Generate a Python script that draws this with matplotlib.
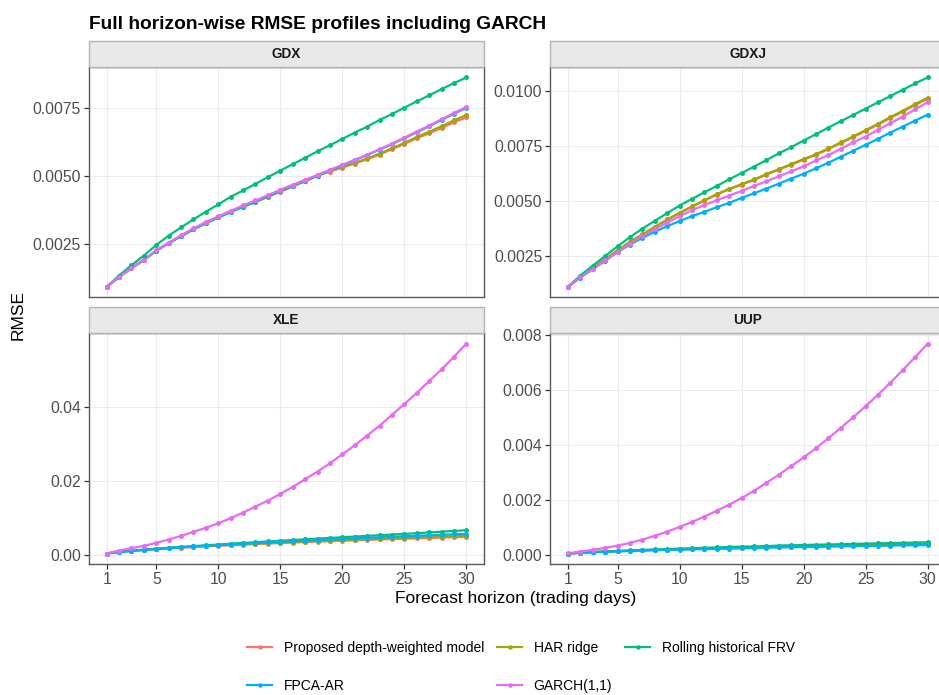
import matplotlib
matplotlib.use("Agg")
import matplotlib.pyplot as plt
from matplotlib.patches import Rectangle
from matplotlib.lines import Line2D
import numpy as np

plt.rcParams['font.family'] = ['Liberation Sans', 'DejaVu Sans']

horizon = list(range(1, 31))
models = ["Proposed depth-weighted model", "HAR ridge", "Rolling historical FRV",
          "FPCA-AR", "GARCH(1,1)"]
colors = ["#F8766D", "#A3A500", "#00BF7D", "#00B0F6", "#E76BF3"]

# ---- GDX
gdx_proposed = [0.000919, 0.001280, 0.001610, 0.001910, 0.002250, 0.002530, 0.002790, 0.003040, 0.003270, 0.003480,
                0.003680, 0.003870, 0.004050, 0.004240, 0.004430, 0.004620, 0.004810, 0.005012, 0.005172, 0.005319,
                0.005466, 0.005625, 0.005797, 0.005993, 0.006189, 0.006397, 0.006581, 0.006777, 0.006985, 0.007169]
gdx_har = [0.000919, 0.001282, 0.001612, 0.001912, 0.002252, 0.002532, 0.002792, 0.003042, 0.003272, 0.003482,
           0.003682, 0.003875, 0.004055, 0.004248, 0.004440, 0.004630, 0.004822, 0.005025, 0.005188, 0.005338,
           0.005490, 0.005652, 0.005828, 0.006025, 0.006225, 0.006440, 0.006640, 0.006840, 0.007060, 0.007250]
gdx_rolling = [0.000919, 0.001336, 0.001716, 0.002071, 0.002463, 0.002806, 0.003113, 0.003407, 0.003689, 0.003958,
               0.004240, 0.004473, 0.004718, 0.004963, 0.005208, 0.005441, 0.005674, 0.005919, 0.006140, 0.006373,
               0.006605, 0.006826, 0.007071, 0.007292, 0.007525, 0.007757, 0.007978, 0.008211, 0.008431, 0.008640]
gdx_fpca = [0.000919, 0.001280, 0.001610, 0.001910, 0.002250, 0.002530, 0.002790, 0.003040, 0.003270, 0.003480,
            0.003680, 0.003880, 0.004060, 0.004260, 0.004450, 0.004640, 0.004830, 0.005020, 0.005210, 0.005400,
            0.005590, 0.005780, 0.005980, 0.006180, 0.006400, 0.006620, 0.006840, 0.007070, 0.007300, 0.007520]
gdx_garch = [0.000919, 0.001287, 0.001618, 0.001924, 0.002267, 0.002549, 0.002819, 0.003076, 0.003309, 0.003517,
             0.003725, 0.003922, 0.004105, 0.004301, 0.004498, 0.004681, 0.004865, 0.005049, 0.005233, 0.005417,
             0.005600, 0.005784, 0.005993, 0.006201, 0.006422, 0.006642, 0.006863, 0.007096, 0.007328, 0.007549]

# ---- GDXJ
gdxj_proposed = [0.001100, 0.001551, 0.001973, 0.002350, 0.002741, 0.003133, 0.003464, 0.003810, 0.004142, 0.004443,
                 0.004729, 0.005015, 0.005286, 0.005527, 0.005738, 0.005949, 0.006190, 0.006416, 0.006642, 0.006868,
                 0.007093, 0.007349, 0.007621, 0.007892, 0.008178, 0.008464, 0.008765, 0.009051, 0.009352, 0.009639]
gdxj_har = [0.001100, 0.001555, 0.001980, 0.002360, 0.002752, 0.003145, 0.003478, 0.003825, 0.004158, 0.004460,
            0.004748, 0.005035, 0.005306, 0.005548, 0.005760, 0.005972, 0.006214, 0.006440, 0.006668, 0.006895,
            0.007122, 0.007380, 0.007652, 0.007925, 0.008212, 0.008500, 0.008802, 0.009090, 0.009392, 0.009680]
gdxj_rolling = [0.001100, 0.001612, 0.002063, 0.002500, 0.002937, 0.003359, 0.003735, 0.004096, 0.004443, 0.004789,
                0.005090, 0.005392, 0.005678, 0.005979, 0.006265, 0.006551, 0.006852, 0.007154, 0.007440, 0.007741,
                0.008027, 0.008328, 0.008614, 0.008901, 0.009187, 0.009473, 0.009759, 0.010045, 0.010331, 0.010602]
gdxj_fpca = [0.001100, 0.001521, 0.001898, 0.002274, 0.002681, 0.003012, 0.003328, 0.003599, 0.003856, 0.004081,
             0.004307, 0.004503, 0.004714, 0.004910, 0.005135, 0.005346, 0.005557, 0.005783, 0.006009, 0.006235,
             0.006476, 0.006732, 0.007003, 0.007274, 0.007545, 0.007816, 0.008102, 0.008374, 0.008645, 0.008916]
gdxj_garch = [0.001100, 0.001536, 0.001928, 0.002304, 0.002681, 0.003057, 0.003404, 0.003705, 0.004021, 0.004307,
              0.004578, 0.004810, 0.005030, 0.005241, 0.005452, 0.005678, 0.005889, 0.006115, 0.006340, 0.006566,
              0.006837, 0.007078, 0.007364, 0.007651, 0.007922, 0.008223, 0.008524, 0.008825, 0.009157, 0.009473]

# ---- XLE
xle_proposed = [0.00045, 0.00086, 0.00116, 0.00141, 0.00164, 0.00185, 0.00204, 0.00222, 0.00239, 0.00255,
                0.00271, 0.00286, 0.00300, 0.00314, 0.00328, 0.00341, 0.00354, 0.00366, 0.00378, 0.00390,
                0.00402, 0.00413, 0.00424, 0.00435, 0.00445, 0.00455, 0.00465, 0.00475, 0.00485, 0.00494]
xle_har = [0.00045, 0.00087, 0.00117, 0.00143, 0.00167, 0.00189, 0.00209, 0.00228, 0.00246, 0.00263,
           0.00280, 0.00296, 0.00311, 0.00326, 0.00341, 0.00355, 0.00369, 0.00382, 0.00395, 0.00408,
           0.00421, 0.00433, 0.00445, 0.00457, 0.00468, 0.00479, 0.00490, 0.00500, 0.00510, 0.00520]
xle_rolling = [0.00045, 0.00088, 0.00120, 0.00148, 0.00174, 0.00198, 0.00222, 0.00245, 0.00267, 0.00288,
               0.00309, 0.00330, 0.00350, 0.00370, 0.00390, 0.00409, 0.00428, 0.00447, 0.00466, 0.00485,
               0.00503, 0.00521, 0.00539, 0.00557, 0.00576, 0.00594, 0.00614, 0.00634, 0.00654, 0.00674]
xle_fpca = [0.00045, 0.00088, 0.00119, 0.00146, 0.00171, 0.00194, 0.00216, 0.00236, 0.00256, 0.00275,
            0.00293, 0.00311, 0.00328, 0.00345, 0.00362, 0.00378, 0.00394, 0.00410, 0.00425, 0.00440,
            0.00455, 0.00470, 0.00484, 0.00498, 0.00512, 0.00525, 0.00538, 0.00551, 0.00563, 0.00575]
xle_garch = [0.00045, 0.00126, 0.00189, 0.00252, 0.00333, 0.00423, 0.00521, 0.00629, 0.00737, 0.00863,
             0.00998, 0.01151, 0.01313, 0.01474, 0.01654, 0.01843, 0.02050, 0.02256, 0.02481, 0.02724,
             0.02967, 0.03227, 0.03497, 0.03785, 0.04081, 0.04378, 0.04702, 0.05016, 0.05358, 0.05709]

# ---- UUP
uup_proposed = [0.00005, 0.00008, 0.00010, 0.00012, 0.00013, 0.00015, 0.00016, 0.00018, 0.00019, 0.00020,
                0.00021, 0.00023, 0.00024, 0.00025, 0.00026, 0.00027, 0.00028, 0.00029, 0.00030, 0.00031,
                0.00032, 0.00033, 0.00034, 0.00035, 0.00036, 0.00036, 0.00037, 0.00038, 0.00039, 0.00040]
uup_har = [0.00005, 0.00008, 0.00010, 0.00012, 0.00014, 0.00015, 0.00017, 0.00018, 0.00019, 0.00021,
           0.00022, 0.00023, 0.00024, 0.00026, 0.00027, 0.00028, 0.00029, 0.00030, 0.00031, 0.00032,
           0.00033, 0.00034, 0.00035, 0.00036, 0.00037, 0.00038, 0.00039, 0.00040, 0.00041, 0.00042]
uup_rolling = [0.00005, 0.00008, 0.00010, 0.00012, 0.00014, 0.00016, 0.00018, 0.00020, 0.00021, 0.00023,
               0.00024, 0.00026, 0.00027, 0.00029, 0.00030, 0.00031, 0.00032, 0.00034, 0.00035, 0.00036,
               0.00037, 0.00038, 0.00039, 0.00040, 0.00041, 0.00042, 0.00043, 0.00044, 0.00045, 0.00046]
uup_fpca = [0.00005, 0.00008, 0.00010, 0.00011, 0.00013, 0.00014, 0.00016, 0.00017, 0.00018, 0.00019,
            0.00020, 0.00021, 0.00022, 0.00023, 0.00024, 0.00025, 0.00026, 0.00027, 0.00028, 0.00029,
            0.00029, 0.00030, 0.00031, 0.00032, 0.00032, 0.00033, 0.00034, 0.00035, 0.00035, 0.00036]
uup_garch = [0.0000606, 0.000121, 0.000182, 0.000255, 0.000339, 0.000436, 0.000558, 0.000691, 0.000848, 0.001018,
             0.001200, 0.001394, 0.001612, 0.001830, 0.002073, 0.002339, 0.002630, 0.002921, 0.003236, 0.003552,
             0.003891, 0.004255, 0.004630, 0.005018, 0.005418, 0.005842, 0.006279, 0.006739, 0.007212, 0.007697]

panel_names = ["GDX", "GDXJ", "XLE", "UUP"]
panel_series = [
    [gdx_proposed, gdx_har, gdx_rolling, gdx_fpca, gdx_garch],
    [gdxj_proposed, gdxj_har, gdxj_rolling, gdxj_fpca, gdxj_garch],
    [xle_proposed, xle_har, xle_rolling, xle_fpca, xle_garch],
    [uup_proposed, uup_har, uup_rolling, uup_fpca, uup_garch],
]
panel_yticks = [
    [0.0025, 0.0050, 0.0075],
    [0.0025, 0.0050, 0.0075, 0.0100],
    [0.00, 0.02, 0.04],
    [0.000, 0.002, 0.004, 0.006, 0.008],
]
panel_fmt = ["{:.4f}", "{:.4f}", "{:.2f}", "{:.3f}"]
xticks = [1, 5, 10, 15, 20, 25, 30]

W, H = 939, 695
fig = plt.figure(figsize=(W / 100, H / 100), dpi=100)

# panel boxes in pixels: left, top, right, bottom
boxes = [(88.7, 67.0, 484.3, 297.3), (550.0, 67.0, 945.6, 297.3),
         (88.7, 333.3, 484.3, 564.0), (550.0, 333.3, 945.6, 564.0)]
strip_px = 26.3

for name, series, yt, fmt, (l, t, r, b) in zip(panel_names, panel_series, panel_yticks, panel_fmt, boxes):
    ax = fig.add_axes([l / W, 1 - b / H, (r - l) / W, (b - t) / H])
    ax.set_facecolor("white")
    for vals, c in zip(series, colors):
        ax.plot(horizon, vals, color=c, lw=1.6, zorder=2, solid_capstyle="round")
    for vals, c in zip(series, colors):
        ax.plot(horizon, vals, 'o', color=c, ms=3.6, mew=0, zorder=3)
    ax.margins(x=0.05, y=0.05)
    ax.set_xticks(xticks)
    ax.set_yticks(yt)
    ax.set_yticklabels([fmt.format(v) for v in yt])
    ax.grid(True, color="#EBEBEB", lw=0.8, zorder=0)
    ax.set_axisbelow(True)
    for s in ax.spines.values():
        s.set_color("#5A5A5A")
        s.set_linewidth(1.0)
    ax.tick_params(axis="both", colors="#4D4D4D", labelsize=11.3, length=3.5, width=0.9, pad=2)
    ax.tick_params(axis="both", color="#333333")
    if name in ("GDX", "GDXJ"):
        ax.tick_params(axis="x", labelbottom=False, length=0)
    # facet strip
    sh = strip_px / (b - t)
    ax.add_patch(Rectangle((0, 1), 1, sh, transform=ax.transAxes, clip_on=False,
                           facecolor="#E8E8E8", edgecolor="#B3B3B3", lw=1.0, zorder=5))
    ax.text(0.5, 1 + sh / 2, name, transform=ax.transAxes, ha="center", va="center",
            fontsize=9.8, fontweight="bold", color="#1A1A1A", zorder=6)

fig.text(89 / W, 1 - 29 / H, "Full horizon-wise RMSE profiles including GARCH",
         fontsize=13.8, fontweight="bold", ha="left", va="baseline", color="black")
fig.text(18 / W, 1 - 315 / H, "RMSE", rotation=90, fontsize=12.5, ha="center", va="center")
fig.text(516 / W, 1 - 598.5 / H, "Forecast horizon (trading days)", fontsize=12.5,
         ha="center", va="center")

handles = [Line2D([], [], color=c, lw=1.6, marker='o', ms=3.2, mew=0) for c in colors]
order = [0, 3, 1, 4, 2]
leg = fig.legend([handles[i] for i in order], [models[i] for i in order], ncol=3,
                 loc="upper left", bbox_to_anchor=(247 / W, 1 - 641 / H), frameon=False,
                 fontsize=10, handlelength=1.8, handletextpad=0.83, columnspacing=0.95,
                 labelspacing=1.75, borderpad=0, borderaxespad=0, numpoints=1)

fig.savefig("out.png", dpi=100, facecolor="white")
